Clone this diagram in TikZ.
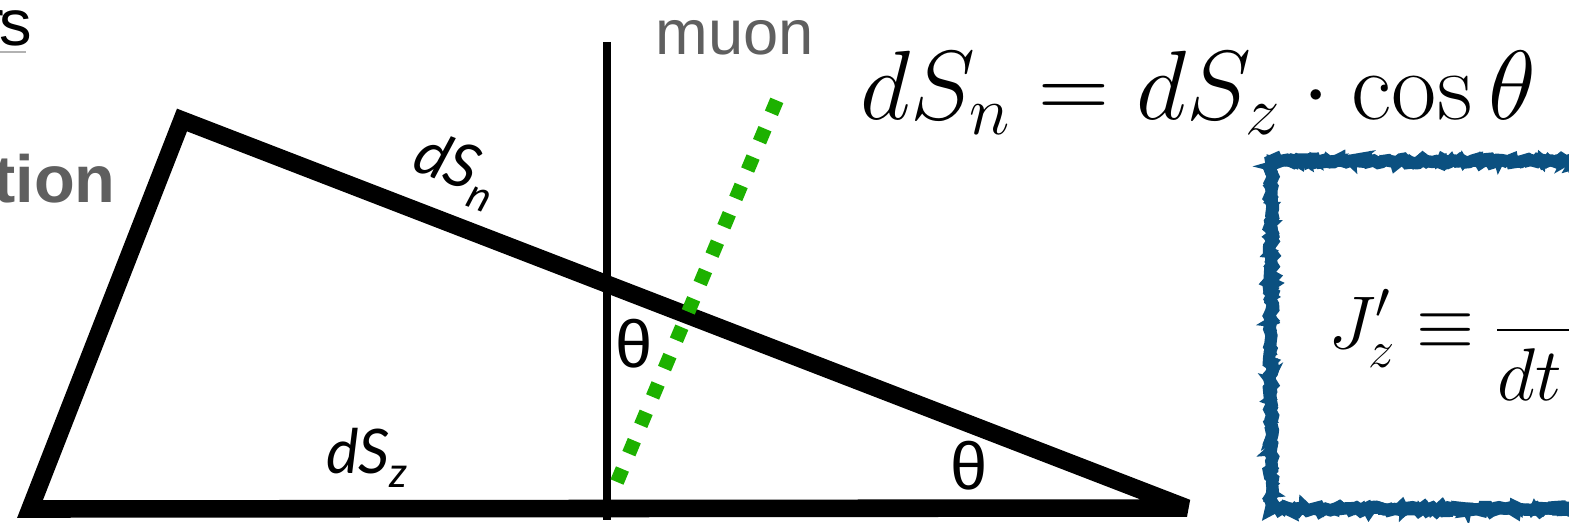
\RequirePackage{fix-cm}
\documentclass[tikz,border=0pt]{standalone}
\usepackage{amsmath}
\usepackage{fontspec}
\setsansfont{Liberation Sans}
\newfontfamily\lblfont{Lato}
\usetikzlibrary{decorations.pathmorphing}
\usepackage{xcolor}
\definecolor{muongreen}{RGB}{29,177,0}
\definecolor{boxblue}{RGB}{11,80,128}
\definecolor{slidegray}{RGB}{95,95,95}
\newcommand{\lowsub}[1]{\raisebox{-0.45ex}{\fontsize{24}{26}\selectfont #1}}

\begin{document}
\begin{tikzpicture}[x=0.02cm,y=-0.02cm,line join=miter,miter limit=4,
  edge/.style={line width=10pt},
  lbl/.style={inner sep=0pt,font=\lblfont\itshape\fontsize{35}{38}\selectfont},
  ang/.style={inner sep=0pt,font=\sffamily\fontsize{38}{40}\selectfont},
  rough/.style={boxblue,decorate,decoration={random steps,segment length=#1,amplitude=1.3pt}}]
\useasboundingbox (0,0) rectangle (1569,523);
\clip (0,0) rectangle (1569,523);
% leftovers of the slide
\node[anchor=base east,inner sep=0pt,font=\sffamily\fontsize{37}{40}\selectfont] (rest) at (32,46) {r\kern-3pt s};
\draw[gray!60,line width=0.6pt] (0,52) -- (26,52);
\node[anchor=base east,inner sep=0pt,text=slidegray,font=\sffamily\bfseries\fontsize{38}{42}\selectfont] (part) at (116,203) {tion};
% triangle
\coordinate (A) at (30,509);
\coordinate (B) at (182,120);
\coordinate (C) at (1187,508);
\draw[edge] (A) -- (B) -- (C) -- cycle;
% normal and muon track
\coordinate (top) at (607,42);
\coordinate (bot) at (607,520);
\draw[line width=4.3pt] (top) -- (bot);
\coordinate (mu0) at (617,482);
\coordinate (mu1) at (782,88);
\draw[muongreen,line width=8pt,dash pattern=on 8pt off 9.5pt] (mu0) -- (mu1);
\node[anchor=base,inner sep=0pt,text=slidegray,font=\sffamily\fontsize{36}{40}\selectfont] (muon) at (735,55) {muon};
% labels
\node[lbl,rotate=-21] (dsn) at (456,170) {dS\lowsub{n}};
\node[lbl] (dsz) at (367,458) {dS\lowsub{z}};
\node[ang] (th1) at (634,344) {θ};
\node[ang] (th2) at (969,466) {θ};
\node[anchor=base west,inner sep=0pt,font=\fontsize{56}{60}\selectfont] (eqn) at (860,120) {$dS_n = dS_z \cdot \cos\theta$};
% box
\pgfmathsetseed{7}
\draw[rough=2pt,line width=7pt] (1271,161) rectangle (1640,509);
\draw[rough=1.2pt,line width=5pt] (1271,161) rectangle (1640,509);
\draw[rough=3pt,line width=3pt] (1271,161) rectangle (1640,509);
\node[anchor=base west,inner sep=0pt,font=\fontsize{42.5}{46}\selectfont] (jz) at (1328,349) {$\displaystyle J'_z \equiv \frac{\hphantom{dN}}{dt\hphantom{\,dS_z}}$};
\end{tikzpicture}
\end{document}
